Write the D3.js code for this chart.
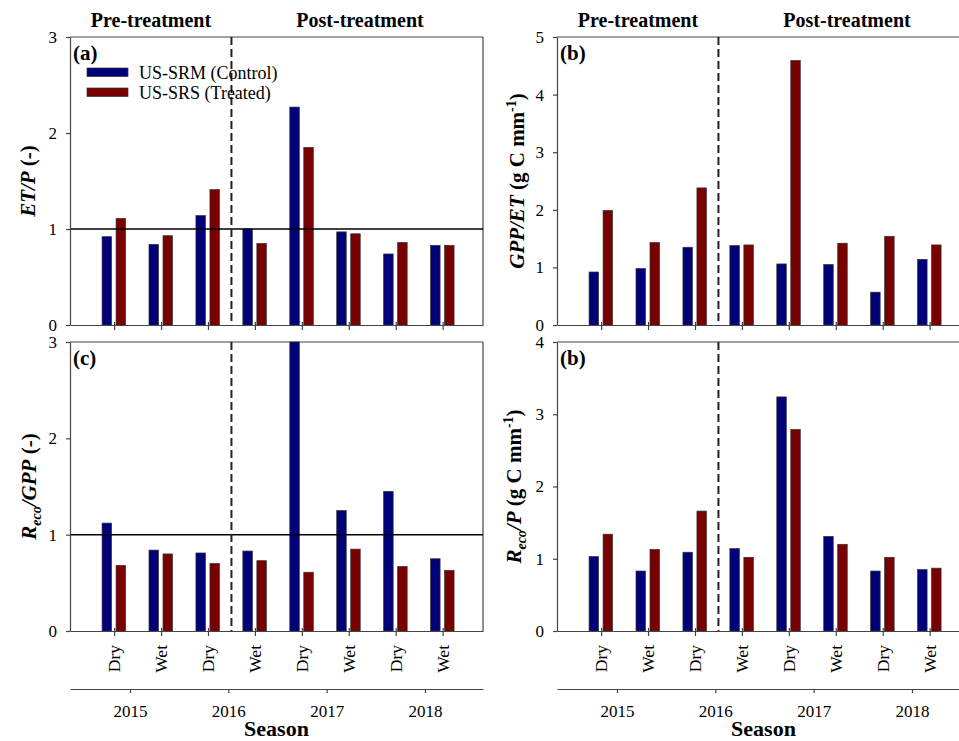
<!DOCTYPE html>
<html>
<head>
<meta charset="utf-8">
<script src="https://cdn.jsdelivr.net/npm/d3@7"></script>
<style>
  body { margin: 0; background: #fff; }
  svg text { font-family: "Liberation Serif", "Times New Roman", serif; fill: #000; }
  .axis path, .axis line { stroke: #444; stroke-width: 1.2; }
  .axis text { font-size: 17px; }
</style>
</head>
<body>
<div id="chart-area"></div>
<script>
// categories / ticks
let seasons = ["Dry", "Wet", "Dry", "Wet", "Dry", "Wet", "Dry", "Wet"];
let years = [2015, 2016, 2017, 2018];
let periods = ["Pre-treatment", "Post-treatment"];
let series = ["US-SRM (Control)", "US-SRS (Treated)"];

// values
let etpControl = [0.92, 0.84, 1.14, 1.00, 2.27, 0.97, 0.74, 0.83];
let etpTreated = [1.11, 0.93, 1.41, 0.85, 1.85, 0.95, 0.86, 0.83];
let gppEtControl = [0.92, 0.98, 1.35, 1.38, 1.06, 1.05, 0.57, 1.14];
let gppEtTreated = [1.99, 1.43, 2.38, 1.39, 4.59, 1.42, 1.54, 1.39];
let recoGppControl = [1.12, 0.84, 0.81, 0.83, 3.00, 1.25, 1.45, 0.75];
let recoGppTreated = [0.68, 0.80, 0.70, 0.73, 0.61, 0.85, 0.67, 0.63];
let recoPControl = [1.03, 0.83, 1.09, 1.14, 3.24, 1.31, 0.83, 0.85];
let recoPTreated = [1.34, 1.13, 1.66, 1.02, 2.79, 1.20, 1.02, 0.87];

let ticksA = [0, 1, 2, 3];
let ticksB = [0, 1, 2, 3, 4, 5];
let ticksC = [0, 1, 2, 3];
let ticksD = [0, 1, 2, 3, 4];

let colors = ["#000078", "#780000"];
let serif = "'Liberation Serif', 'Times New Roman', serif";

let svg = d3.select("#chart-area")
    .append("svg")
    .attr("width", 959)
    .attr("height", 741)
    .attr("font-family", serif);

let panelW = 413;
let x = d3.scaleLinear().domain([0.06, 8.86]).range([0, panelW]);
let xYear = d3.scaleLinear().domain([2014.39, 2018.59]).range([0, panelW]);

let panels = [
    {left: 70, top: 37, h: 288, ticks: ticksA, a: etpControl, b: etpTreated, tag: "(a)",
        refLine: true, legend: true, header: true, bottom: false, titleX: 35,
        title: [{t: "ET/P", i: true}, {t: " (-)"}]},
    {left: 557, top: 37, h: 288, ticks: ticksB, a: gppEtControl, b: gppEtTreated, tag: "(b)",
        refLine: false, legend: false, header: true, bottom: false, titleX: 524,
        title: [{t: "GPP/ET", i: true}, {t: " (g C mm"}, {t: "-1", sup: true}, {t: ")"}]},
    {left: 70, top: 342, h: 289, ticks: ticksC, a: recoGppControl, b: recoGppTreated, tag: "(c)",
        refLine: true, legend: false, header: false, bottom: true, titleX: 36,
        title: [{t: "R", i: true}, {t: "eco", i: true, sub: true}, {t: "/GPP", i: true}, {t: " (-)"}]},
    {left: 557, top: 342, h: 289, ticks: ticksD, a: recoPControl, b: recoPTreated, tag: "(b)",
        refLine: false, legend: false, header: false, bottom: true, titleX: 521,
        title: [{t: "R", i: true}, {t: "eco", i: true, sub: true}, {t: "/P", i: true}, {t: " (g C mm"}, {t: "-1", sup: true}, {t: ")"}]}
];

panels.forEach(p => drawPanel(p));

function drawPanel(p) {
    let g = svg.append("g")
        .attr("transform", "translate(" + p.left + ", " + p.top + ")");

    let y = d3.scaleLinear()
        .domain([0, d3.max(p.ticks)])
        .range([p.h, 0]);

    // frame (top + right)
    g.append("line").attr("x1", 0).attr("x2", panelW).attr("y1", 0).attr("y2", 0)
        .attr("stroke", "#444").attr("stroke-width", 1.2);
    g.append("line").attr("x1", panelW).attr("x2", panelW).attr("y1", 0).attr("y2", p.h)
        .attr("stroke", "#444").attr("stroke-width", 1.2);

    // bars
    let bw = 9.5;
    [p.a, p.b].forEach((vals, s) => {
        g.selectAll(".bar" + s)
            .data(vals)
            .enter()
            .append("rect")
            .attr("x", (d, i) => x(i + 1) + (s === 0 ? -7.3 : 6.7) - bw / 2)
            .attr("y", d => y(d))
            .attr("width", bw)
            .attr("height", d => p.h - y(d))
            .attr("fill", colors[s])
            .attr("stroke", "#333")
            .attr("stroke-width", 0.7);
    });

    // reference line at 1
    if (p.refLine) {
        g.append("line")
            .attr("x1", 0).attr("x2", panelW)
            .attr("y1", y(1)).attr("y2", y(1))
            .attr("stroke", "#000").attr("stroke-width", 1.5);
    }

    // treatment divider
    g.append("line")
        .attr("x1", x(3.5)).attr("x2", x(3.5))
        .attr("y1", 0).attr("y2", p.h)
        .attr("stroke", "#222")
        .attr("stroke-width", 2)
        .attr("stroke-dasharray", "8,4");

    // Y Axis
    g.append("g")
        .attr("class", "axis")
        .call(d3.axisLeft(y).tickValues(p.ticks).tickSize(4).tickPadding(9).tickSizeOuter(0)
            .tickFormat(d3.format("d")))
        .attr("font-family", serif);

    // X Axis (season ticks, crossing the line)
    g.append("g")
        .attr("class", "axis")
        .attr("transform", "translate(0," + p.h + ")")
        .call(d3.axisBottom(x).tickValues(d3.range(1, 9)).tickSize(5).tickSizeOuter(0)
            .tickFormat(""))
        .selectAll(".tick line").attr("y1", -3);

    // panel tag
    g.append("text")
        .attr("x", 3).attr("y", 23)
        .attr("font-size", "21px")
        .attr("font-weight", "bold")
        .text(p.tag);

    // y title
    let cy = p.top + p.h / 2;
    let title = svg.append("text")
        .attr("transform", "translate(" + p.titleX + "," + cy + ") rotate(-90)")
        .attr("text-anchor", "middle")
        .attr("font-size", "21px")
        .attr("font-weight", "bold");
    let shift = 0;
    p.title.forEach(part => {
        let target = part.sub ? 5 : part.sup ? -8 : 0;
        let ts = title.append("tspan")
            .attr("dy", target - shift)
            .text(part.t);
        shift = target;
        if (part.i) ts.attr("font-style", "italic");
        if (part.sub || part.sup) ts.attr("font-size", "14px");
    });

    if (p.header) {
        let headX = [81, 290];
        periods.forEach((t, i) => {
            svg.append("text")
                .attr("x", p.left + headX[i])
                .attr("y", 27)
                .attr("text-anchor", "middle")
                .attr("font-size", "20px")
                .attr("font-weight", "bold")
                .text(t);
        });
    }

    if (p.legend) {
        series.forEach((s, i) => {
            let row = g.append("g")
                .attr("transform", "translate(17," + (31 + i * 20) + ")");
            row.append("rect")
                .attr("width", 41).attr("height", 8.5)
                .attr("fill", colors[i])
                .attr("stroke", "#333").attr("stroke-width", 0.7);
            row.append("text")
                .attr("x", 52).attr("y", 11)
                .attr("font-size", "18px")
                .text(s);
        });
    }

    if (p.bottom) {
        // season labels
        seasons.forEach((s, i) => {
            g.append("text")
                .attr("transform", "translate(" + x(i + 1) + "," + (p.h + 14) + ") rotate(-90)")
                .attr("text-anchor", "end")
                .attr("dy", "0.35em")
                .attr("font-size", "17.5px")
                .text(s);
        });

        // year axis
        svg.append("g")
            .attr("class", "axis")
            .attr("transform", "translate(" + p.left + ",689)")
            .call(d3.axisBottom(xYear).tickValues(years).tickSize(4).tickPadding(12)
                .tickSizeOuter(0).tickFormat(d3.format("d")))
            .attr("font-family", serif)
            .selectAll("text").attr("font-size", "17.5px");

        svg.append("text")
            .attr("x", p.left + panelW / 2)
            .attr("y", 736)
            .attr("text-anchor", "middle")
            .attr("font-size", "22px")
            .attr("font-weight", "bold")
            .text("Season");
    }
}
</script>
</body>
</html>
